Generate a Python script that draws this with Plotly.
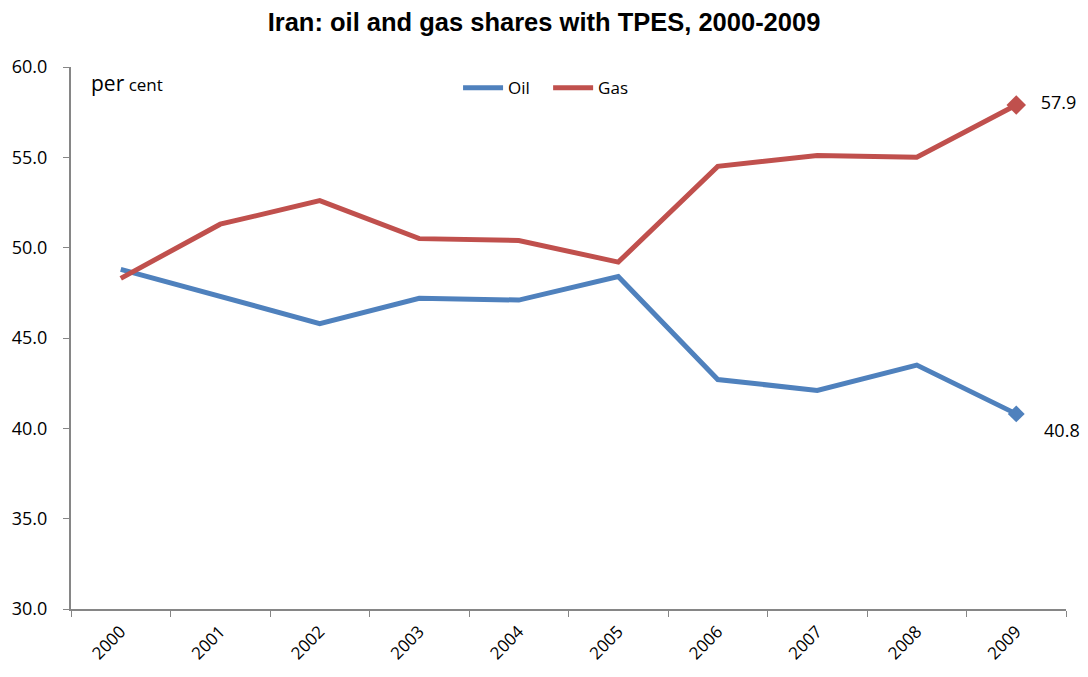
import plotly.graph_objects as go

years = ["2000", "2001", "2002", "2003", "2004", "2005", "2006", "2007", "2008", "2009"]
oil = [48.8, 47.3, 45.8, 47.2, 47.1, 48.4, 42.7, 42.1, 43.5, 40.8]
gas = [48.3, 51.3, 52.6, 50.5, 50.4, 49.2, 54.5, 55.1, 55.0, 57.9]

oil_color = "#4F81BD"
gas_color = "#C0504D"
font_family = "Open Sans, Lato, sans-serif"
nb = "\u00a0"

fig = go.Figure()
fig.add_trace(go.Scatter(x=years, y=oil, mode="lines", name="Oil" + nb * 3,
                         line=dict(color=oil_color, width=5)))
fig.add_trace(go.Scatter(x=years, y=gas, mode="lines", name="Gas",
                         line=dict(color=gas_color, width=5)))
fig.add_trace(go.Scatter(x=[years[-1]], y=[oil[-1]], mode="markers+text",
                         marker=dict(symbol="diamond", size=13, color=oil_color),
                         text=[nb * 4 + f"{oil[-1]:.1f}"], textposition="bottom right",
                         textfont=dict(size=18, color="#000"),
                         showlegend=False, cliponaxis=False))
fig.add_trace(go.Scatter(x=[years[-1]], y=[gas[-1]], mode="markers+text",
                         marker=dict(symbol="diamond", size=15, color=gas_color),
                         text=[nb * 3 + f"{gas[-1]:.1f}"], textposition="middle right",
                         textfont=dict(size=18, color="#000"),
                         showlegend=False, cliponaxis=False))

fig.update_layout(
    width=1072, height=661,
    paper_bgcolor="white", plot_bgcolor="white",
    margin=dict(l=63, r=14, t=59, b=60),
    font=dict(family=font_family, size=16, color="#000"),
    title=dict(text="<b>Iran: oil and gas shares with TPES, 2000-2009</b>",
               x=0.5, xanchor="center", y=0.992, yanchor="top",
               font=dict(family="Liberation Sans, Arial, sans-serif", size=25.5, color="#000")),
    legend=dict(orientation="h", x=0.389, y=0.994, xanchor="left", yanchor="top",
                bgcolor="rgba(0,0,0,0)", font=dict(size=17), itemwidth=40),
    showlegend=True,
)
fig.update_xaxes(type="category", range=[-0.5, 9.5], tickson="boundaries", ticks="outside", ticklen=6,
                 tickcolor="#868686", showline=True, linecolor="#868686", linewidth=2,
                 showgrid=False, tickangle=-45, tickfont=dict(size=17), automargin=False,
                 ticklabelstandoff=4)
fig.update_yaxes(range=[30, 60], dtick=5, tickformat=".1f", ticks="outside", ticklen=6,
                 tickcolor="#868686", showline=True, linecolor="#868686", linewidth=2,
                 showgrid=False, zeroline=False, tickfont=dict(size=18), automargin=False,
                 ticklabelstandoff=12)

fig.add_annotation(xref="paper", yref="paper", x=0.018, y=1.0, xanchor="left", yanchor="top",
                   text="<span style='font-size:21px'>per</span> cent", showarrow=False,
                   font=dict(size=17, color="#000"))

fig.write_html("out.html")
